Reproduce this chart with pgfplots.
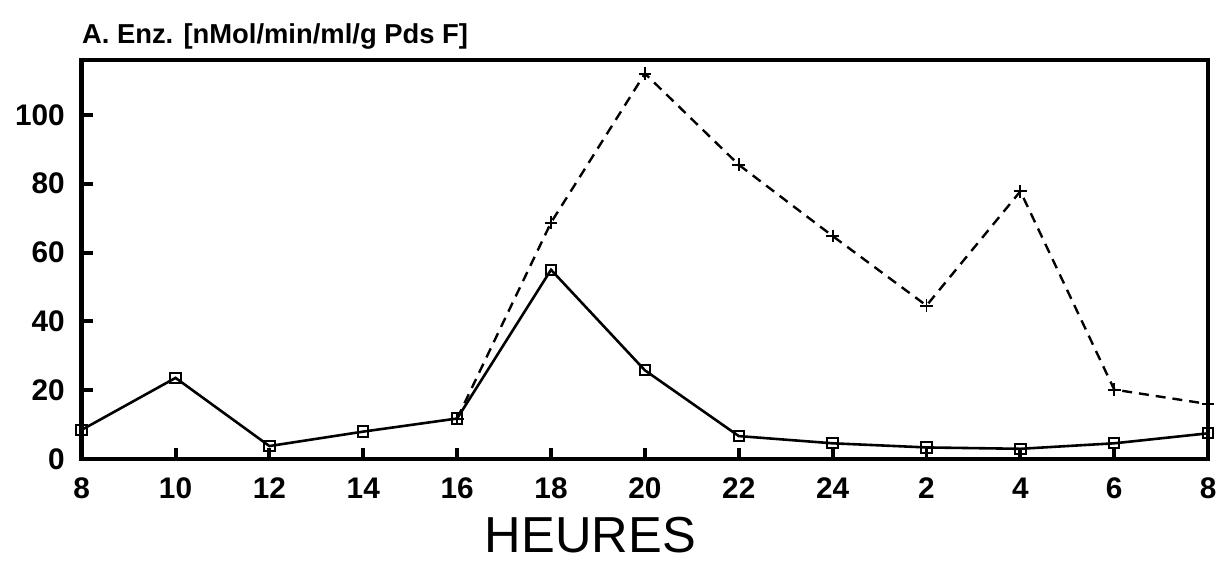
\documentclass[border=0pt]{standalone}
\usepackage{fontspec}
\setmainfont{Liberation Sans}
\usepackage{pgfplots}
\pgfplotsset{compat=1.18}

\begin{document}
\begin{tikzpicture}
\begin{axis}[
    scale only axis,
    width=565.5bp, height=200.5bp,
    xmin=0, xmax=12, ymin=0, ymax=116,
    xtick={0,...,12},
    xticklabels={8,10,12,14,16,18,20,22,24,2,4,6,8},
    ytick={0,20,40,60,80,100},
    tick pos=left,
    tick align=inside,
    major tick length=5.5bp,
    every tick/.style={black, line width=2bp},
    axis line style={line width=2.2bp},
    /pgf/number format/assume math mode=true,
    ticklabel style={font=\bfseries\fontsize{15}{15}\selectfont},
    yticklabel style={xshift=-5bp},
    xticklabel style={yshift=-6bp},
]
\addplot[black, line width=1.3bp, mark=square, mark size=2.6bp,
    mark options={solid, fill=white, line width=1bp}] coordinates {
    (0,8.5) (1,23.6) (2,3.8) (3,8.0) (4,11.8) (5,55.0) (6,25.8)
    (7,6.7) (8,4.6) (9,3.4) (10,3.0) (11,4.6) (12,7.5)
};
\addplot[black, line width=1.2bp, dash pattern=on 5bp off 3.5bp,
    mark=+, mark size=3.2bp, mark options={solid, line width=1bp}] coordinates {
    (4,11.8) (5,68.7) (6,112) (7,85.5) (8,64.8) (9,44.6) (10,77.8)
    (11,20.2) (12,16.0)
};
\coordinate (O) at (rel axis cs:0,0);
\coordinate (T) at (rel axis cs:0,1);
\coordinate (H) at (axis cs:5.42,0);
\end{axis}
\node[anchor=base west, inner sep=0pt, font=\bfseries\fontsize{13.8}{15}\selectfont]
    at ([yshift=8bp]T) {A. Enz. [nMol/min/ml/g Pds F]};
\node[anchor=base, inner sep=0pt, font=\fontsize{25.5}{28}\selectfont]
    at ([yshift=-47bp]H) {HEURES};
\path (O) ++(-41bp,230.5bp) coordinate (a);
\path (O) ++(570.5bp,-51bp) coordinate (b);
\end{tikzpicture}
\end{document}
